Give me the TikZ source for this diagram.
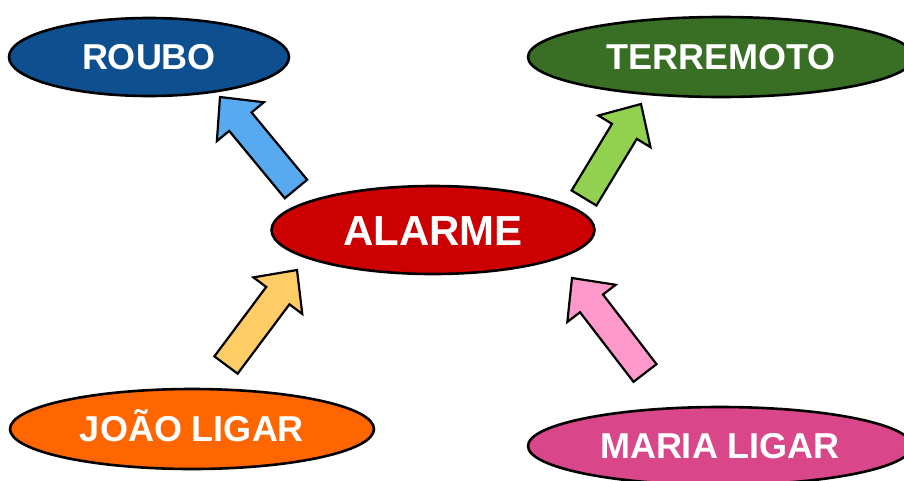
\documentclass[tikz,border=0pt]{standalone}
\usepackage{fontspec}
\setmainfont{Liberation Sans}
\usetikzlibrary{shapes.geometric,calc}
\definecolor{cRoubo}{HTML}{0E4F8F}
\definecolor{cTerra}{HTML}{386F25}
\definecolor{cAlarme}{HTML}{CC0000}
\definecolor{cJoao}{HTML}{FF6600}
\definecolor{cMaria}{HTML}{D9468A}
\definecolor{aBlue}{HTML}{57AAF0}
\definecolor{aGreen}{HTML}{92D050}
\definecolor{aOrange}{HTML}{FFCC66}
\definecolor{aPink}{HTML}{FF99CC}
\tikzset{
  evt/.style={ellipse, draw=black, line width=2.6pt, inner sep=0pt, text=white,
    font=\bfseries\fontsize{36}{36}\selectfont, text height=25.8pt, text depth=0pt},
  bigevt/.style={evt, font=\bfseries\fontsize{42}{42}\selectfont, text height=30pt},
  barrow/.style={draw=black, line width=2.2pt, line join=miter},
}
\newcommand\blockarrow[3]{%
  \coordinate (hb) at ($(#2)!32pt!(#1)$);
  \filldraw[barrow, fill=#3]
    ($(#1)!14.5pt!90:(#2)$) -- ($(hb)!14.5pt!90:(#2)$) -- ($(hb)!30.5pt!90:(#2)$)
    -- (#2) -- ($(hb)!30.5pt!-90:(#2)$) -- ($(hb)!14.5pt!-90:(#2)$)
    -- ($(#1)!14.5pt!-90:(#2)$) -- cycle;
}
\begin{document}
\begin{tikzpicture}[x=1pt, y=-1pt]
  \useasboundingbox (0,0) rectangle (904,480);
  \fill[white] (0,0) rectangle (904,480);
  \node[evt, fill=cRoubo, minimum width=280pt, minimum height=78pt] (roubo) at (149,57) {ROUBO};
  \node[evt, fill=cTerra, minimum width=386pt, minimum height=80pt] (terremoto) at (721,57) {TERREMOTO};
  \node[bigevt, fill=cAlarme, minimum width=323pt, minimum height=88pt] (alarme) at (433,230) {ALARME};
  \node[evt, fill=cJoao, minimum width=364pt, minimum height=80pt] (joao) at (192,429) {JOÃO LIGAR};
  \node[evt, fill=cMaria, minimum width=384pt, minimum height=78pt] (maria) at (720,446) {MARIA LIGAR};
  % arrow end points
  \coordinate (bt) at (296,189);
  \coordinate (bh) at (220,97);
  \coordinate (gt) at (584,198);
  \coordinate (gh) at (641,104);
  \coordinate (ot) at (226,365);
  \coordinate (oh) at (297,270);
  \coordinate (pt) at (645,373);
  \coordinate (ph) at (572,278);
  \blockarrow{bt}{bh}{aBlue}
  \blockarrow{gt}{gh}{aGreen}
  \blockarrow{ot}{oh}{aOrange}
  \blockarrow{pt}{ph}{aPink}
\end{tikzpicture}
\end{document}
